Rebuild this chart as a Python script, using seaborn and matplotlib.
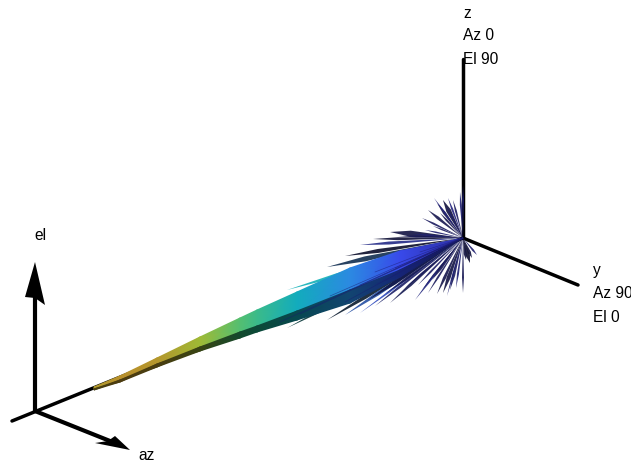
import numpy as np
import matplotlib
matplotlib.use("Agg")
import matplotlib.pyplot as plt
import seaborn as sns

# everything in pixel units
origin = (463, 238)

# main lobe, stations going from the far tip back to the origin
lobe_x = [94, 120, 157, 200, 240, 257, 297, 350, 400, 463]
lobe_top = [387, 376, 358, 337, 318, 310, 292, 268, 251, 238]
lobe_ridge = [389, 380, 364, 347, 332, 326, 311, 290, 270, 238]
lobe_bottom = [390, 382, 367, 351, 338, 332, 320, 303, 277, 238]
lobe_value = [0.95, 1.0, 0.97, 0.82, 0.68, 0.62, 0.48, 0.32, 0.16, 0.0]

# side lobes: tip x, tip y, width, value, darkness of the fill
spike_x = [390, 373, 360, 345, 327, 287, 287, 327, 345, 360, 390, 422, 428, 437, 443, 450, 463,
           472, 477, 470, 466, 443, 437, 428, 422, 448, 460, 463, 405, 415, 432,
           434, 440, 446, 453, 433, 425, 412, 398, 368, 375, 385, 456, 447, 418, 338, 310]
spike_y = [232, 239, 245, 256, 267, 290, 328, 320, 315, 313, 303, 290, 293, 294, 293, 290, 293,
           258, 255, 263, 260, 200, 203, 210, 218, 198, 192, 185, 288, 300, 280,
           198, 213, 206, 200, 226, 230, 234, 236, 300, 306, 294, 288, 296, 285, 306, 312]
spike_w = [6, 3, 3, 4, 5, 4, 4, 4, 4, 2, 3, 2, 2, 3, 4, 3, 2,
           3, 2, 4, 3, 5, 3, 3, 2, 2, 2, 2, 2, 2, 3,
           1.5, 2, 1.5, 2, 1.5, 1.5, 1.5, 2, 4, 2.5, 3, 2, 1.5, 2, 4, 5]
spike_val = [0.02, 0.04, 0.1, 0.1, 0.3, 0.5, 0.5, 0.3, 0.25, 0.2, 0.1, 0.02, 0.02, 0.02, 0.02, 0.02, 0.02,
             0.0, 0.0, 0.0, 0.0, 0.0, 0.0, 0.0, 0.0, 0.0, 0.0, 0.02, 0.05, 0.05, 0.02,
             0.0, 0.0, 0.0, 0.0, 0.0, 0.0, 0.02, 0.02, 0.15, 0.1, 0.1, 0.02, 0.02, 0.02, 0.3, 0.4]
spike_dark = [0.6, 0.7, 0.35, 0.8, 0.65, 0.0, 0.7, 0.8, 0.3, 0.2, 0.6, 0.55, 0.45, 0.55, 0.6, 0.45, 0.5,
              0.6, 0.3, 0.7, 0.6, 0.6, 0.5, 0.5, 0.4, 0.2, 0.3, 0.4, 0.5, 0.3, 0.5,
              0.2, 0.5, 0.3, 0.4, 0.4, 0.3, 0.3, 0.5, 0.7, 0.5, 0.6, 0.3, 0.3, 0.4, 0.7, 0.7]

# thin dark streaks on top of the lobe
streak_x = [330, 300, 345, 280, 375, 420, 360, 395]
streak_y = [296, 314, 302, 322, 272, 252, 285, 268]

# black axes
z_axis = ([463, 463], [238, 59])
y_axis = ([463, 578], [238, 285])
x_axis = ([463, 12], [238, 421])
el_axis = ([35, 35], [411, 280])
az_axis = ([35, 110], [411, 441])
el_head = ([35, 25, 35, 45], [262, 297, 298, 305])
az_head = ([130, 95, 108, 115], [450, 443, 441, 436])

labels = [("z", 463, 13), ("Az 0", 463, 36), ("El 90", 463, 60),
          ("y", 593, 270), ("Az 90", 593, 293), ("El 0", 593, 317),
          ("el", 34, 236), ("az", 138, 456)]

sns.set_theme(style="white")
plt.rcParams['font.family'] = ['Liberation Sans', 'DejaVu Sans']

lobe_colors = ["#2b2b9c", "#3a4cf0", "#2a90e0", "#10b0b8", "#4cc078", "#a6ba30", "#b8902c"]
lobe_cmap = sns.blend_palette(lobe_colors, as_cmap=True)
dark_cmap = sns.blend_palette(["#15154e", "#16267a", "#124870", "#06484c", "#0f4a30", "#3c4412", "#4c3c10"], as_cmap=True)


def main():
    fig, ax = plt.subplots(figsize=(6.31, 4.62), dpi=100)
    fig.subplots_adjust(0, 0, 1, 1)

    for xs, ys in [x_axis, z_axis, y_axis]:
        sns.lineplot(x=xs, y=ys, sort=False, estimator=None, color="black", linewidth=2.5, ax=ax, zorder=1)
    for xs, ys in [el_axis, az_axis]:
        sns.lineplot(x=xs, y=ys, sort=False, estimator=None, color="black", linewidth=3, ax=ax, zorder=1)
    ax.fill(*el_head, color="black", lw=0, zorder=2)
    ax.fill(*az_head, color="black", lw=0, zorder=2)

    # side lobes, kite shaped
    ox, oy = origin
    for tx, ty, w, v, d in zip(spike_x, spike_y, spike_w, spike_val, spike_dark):
        dx, dy = tx - ox, ty - oy
        n = np.hypot(dx, dy)
        px, py = -dy / n * w / 2, dx / n * w / 2
        mx, my = ox + dx * 0.72, oy + dy * 0.72
        col = np.array(lobe_cmap(v)[:3]) * (1 - d)
        ax.fill([ox, mx + px, tx, mx - px], [oy, my + py, ty, my - py], color=col, lw=0, alpha=0.9, zorder=3)

    # main lobe, lit face and shaded underside
    xx = np.array([lobe_x, lobe_x], dtype=float)
    vals = np.array([lobe_value, lobe_value])
    ax.pcolormesh(xx, np.array([lobe_top, lobe_ridge], dtype=float), vals, shading="gouraud",
                  cmap=lobe_cmap, vmin=0, vmax=1, zorder=4)
    ax.pcolormesh(xx, np.array([lobe_ridge, lobe_bottom], dtype=float), vals, shading="gouraud",
                  cmap=dark_cmap, vmin=0, vmax=1, zorder=4)

    for tx, ty in zip(streak_x, streak_y):
        ax.plot([ox, tx], [oy, ty], color="#1a1a70", lw=0.5, alpha=0.55, zorder=5)

    for s, x, y in labels:
        ax.text(x, y, s, fontsize=11.2, color="black", ha="left", va="center", zorder=6, clip_on=False)

    ax.set_xlim(0, 631)
    ax.set_ylim(462, 0)
    ax.axis("off")
    fig.savefig("out.png", dpi=100)
    plt.close(fig)


if __name__ == "__main__":
    main()
